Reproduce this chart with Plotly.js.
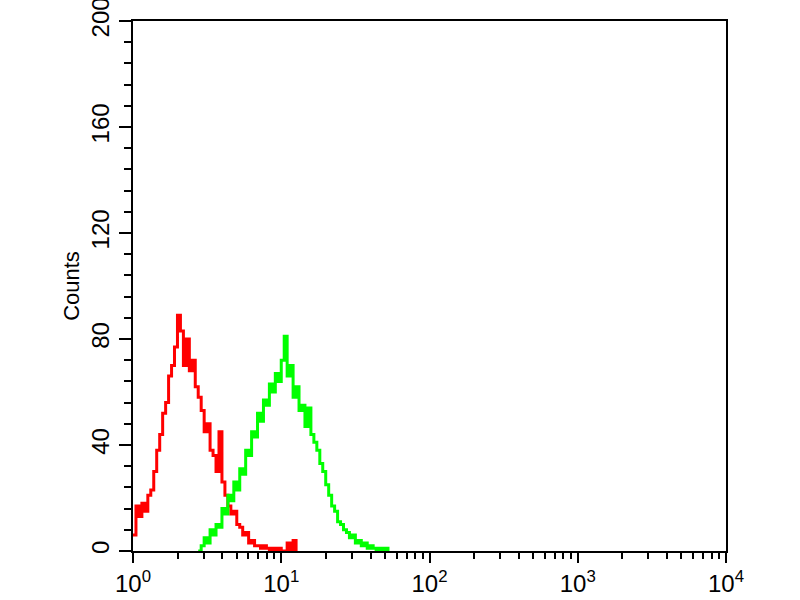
<!DOCTYPE html>
<html>
<head>
<meta charset="utf-8">
<script src="https://cdn.plot.ly/plotly-3.0.1.min.js"></script>
<style>html,body{margin:0;padding:0;background:#fff;}#chart{width:800px;height:600px;}</style>
</head>
<body>
<div id="chart"></div>
<script>
// Fluorescence intensity bins (log-spaced channels, 0.02 decade apart)
var bins = [1.000,1.047,1.096,1.148,1.202,1.259,1.318,1.380,1.445,1.514,
  1.585,1.660,1.738,1.820,1.905,1.995,2.089,2.188,2.291,2.399,
  2.512,2.630,2.754,2.884,3.020,3.162,3.311,3.467,3.631,3.802,
  3.981,4.169,4.365,4.571,4.786,5.012,5.248,5.495,5.754,6.026,
  6.310,6.607,6.918,7.244,7.586,7.943,8.318,8.710,9.120,9.550,
  10.00,10.47,10.96,11.48,12.02,12.59,13.18,13.80,14.45,15.14,
  15.85,16.60,17.38,18.20,19.05,19.95,20.89,21.88,22.91,23.99,
  25.12,26.30,27.54,28.84,30.20,31.62,33.11,34.67,36.31,38.02,
  39.81,41.69,43.65,45.71,47.86,50.12,52.48];

// Control (red) counts
var redCounts = [6,17,13,18,15,21,23,30,38,44,
  52,56,66,70,77,89,83,70,80,68,
  72,62,58,53,45,48,38,36,30,45,
  26,21,17,14,15,10,9,6,7,3,
  4,2,2,1,2,1,0,1,0,1,
  0,0,3,0,4,0,null,null,null,null,
  null,null,null,null,null,null,null,null,null,null,
  null,null,null,null,null,null,null,null,null,null,
  null,null,null,null,null,null,null];

// Antibody-stained (green) counts
var greenCounts = [null,null,null,null,null,null,null,null,null,null,
  null,null,null,null,null,null,null,null,null,null,
  null,null,0,2,5,3,8,6,10,9,
  16,14,21,19,26,23,31,29,38,36,
  45,43,52,49,57,55,63,60,67,64,
  72,81,66,70,58,62,53,55,47,54,
  44,41,38,33,30,25,21,17,15,11,
  10,8,7,5,6,3,4,2,3,1,
  2,1,0,1,0,1,0];

var xTickVals = [1,10,100,1000,10000];
var xTickText = ['10<sup>0</sup>','10<sup>1</sup>','10<sup>2</sup>','10<sup>3</sup>','10<sup>4</sup>'];
var yTickVals = [0,40,80,120,160,200];
var yTickText = ['0','40','80','120','160','200'];

var xMinor = [];
for (var d = 0; d < 4; d++) {
  for (var m = 2; m <= 9; m++) xMinor.push(m * Math.pow(10, d));
}

var traces = [
  {x: bins, y: redCounts, type: 'scatter', mode: 'lines', line: {color: 'rgb(255,0,0)', width: 3, shape: 'hv'}, connectgaps: false, hoverinfo: 'skip'},
  {x: bins, y: greenCounts, type: 'scatter', mode: 'lines', line: {color: 'rgb(0,255,0)', width: 3, shape: 'hv'}, connectgaps: false, hoverinfo: 'skip'}
];

var fnt = {family: 'Arial, "Liberation Sans", sans-serif', size: 24, color: '#000'};

var layout = {
  width: 800, height: 600,
  margin: {l: 133, r: 74, t: 21, b: 49},
  paper_bgcolor: '#fff', plot_bgcolor: '#fff',
  showlegend: false,
  font: fnt,
  xaxis: {
    type: 'log', range: [0, 4],
    tickmode: 'array', tickvals: xTickVals, ticktext: xTickText,
    ticks: 'outside', ticklen: 10, tickwidth: 2, tickcolor: '#000',
    showline: true, linecolor: '#000', linewidth: 2, mirror: true,
    showgrid: false, zeroline: false,
    tickfont: fnt, ticklabeloverflow: 'allow',
    minor: {tickmode: 'array', tickvals: xMinor, ticks: 'outside', ticklen: 6, tickwidth: 2, tickcolor: '#000', showgrid: false}
  },
  yaxis: {
    range: [0, 200],
    tickmode: 'array', tickvals: yTickVals, ticktext: yTickText,
    tickangle: -90,
    ticks: 'outside', ticklen: 12, tickwidth: 2, tickcolor: '#000',
    showline: true, linecolor: '#000', linewidth: 2, mirror: true,
    showgrid: false, zeroline: false,
    tickfont: fnt, ticklabeloverflow: 'allow',
    minor: {dtick: 8, ticks: 'outside', ticklen: 7, tickwidth: 2, tickcolor: '#000', showgrid: false},
    title: {text: 'Counts', font: {family: 'Arial, "Liberation Sans", sans-serif', size: 22, color: '#000'}, standoff: 2}
  }
};

Plotly.newPlot('chart', traces, layout, {displayModeBar: false, staticPlot: true});
</script>
</body>
</html>
